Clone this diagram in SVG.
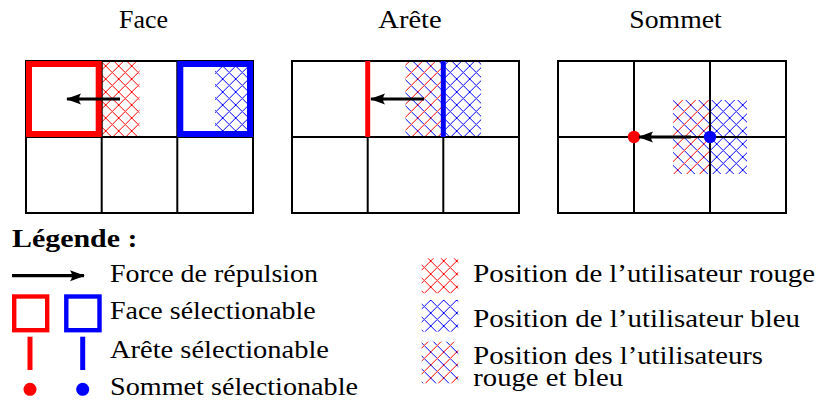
<svg xmlns="http://www.w3.org/2000/svg" width="819" height="403" viewBox="0 0 819 403">
<style>
.grid{fill:none;stroke:#000;stroke-width:2}
.arrow{fill:none;stroke:#000;stroke-width:3.2;marker-end:url(#ah)}
.redsq{fill:none;stroke:#ff0000;stroke-width:6}
.bluesq{fill:none;stroke:#0000ff;stroke-width:6}
</style>
<defs>
<marker id="ah" markerUnits="userSpaceOnUse" viewBox="-16 -7 18 14" markerWidth="18" markerHeight="14" refX="0" refY="0" orient="auto">
<path d="M1,0 L-14,-5.5 Q-10,0 -14,5.5 Z" fill="#000"/>
</marker>
<pattern id="hr" patternUnits="userSpaceOnUse" width="13" height="13" x="1.7" y="1">
<path d="M0,0L13,13M12,-1L14,1M-1,12L1,14M0,13L13,0M-1,1L1,-1M12,14L14,12" stroke="#ff0000" stroke-width="1" fill="none"/>
</pattern>
<pattern id="hb" patternUnits="userSpaceOnUse" width="13" height="13" x="1.7" y="1">
<path d="M0,0L13,13M12,-1L14,1M-1,12L1,14M0,13L13,0M-1,1L1,-1M12,14L14,12" stroke="#0000ff" stroke-width="1" fill="none"/>
</pattern>
<pattern id="hm" patternUnits="userSpaceOnUse" width="13" height="13" x="1.7" y="1">
<path d="M0,0L13,13M12,-1L14,1M-1,12L1,14" stroke="#0000ff" stroke-width="1" fill="none"/>
<path d="M0,13L13,0M-1,1L1,-1M12,14L14,12" stroke="#ff0000" stroke-width="1" fill="none"/>
</pattern>
</defs>
<rect width="819" height="403" fill="#fff"/>

<g font-family="Liberation Serif, DejaVu Serif, Noto Serif, serif" font-size="26" fill="#000">
<g id="panel-face">
<text x="119" y="27.5" textLength="49" lengthAdjust="spacingAndGlyphs">Face</text>
<rect x="101.7" y="61" width="37.8" height="76" fill="url(#hr)"/>
<rect x="215" y="61" width="38" height="76" fill="url(#hb)"/>
<rect class="grid" x="26" y="61" width="227" height="152"/>
<path class="grid" d="M101.7,61V213M177.3,61V213M26,137H253"/>
<rect class="redsq" x="29" y="64" width="69.7" height="70"/>
<rect class="bluesq" x="180.3" y="64" width="69.7" height="70"/>
</g>

<g id="panel-arete">
<text x="378.3" y="27.5" textLength="63.4" lengthAdjust="spacingAndGlyphs">Arête</text>
<rect x="405.5" y="61" width="37.8" height="76" fill="url(#hm)"/>
<rect x="443.3" y="61" width="37.8" height="76" fill="url(#hb)"/>
<rect class="grid" x="292" y="61" width="227" height="152"/>
<path class="grid" d="M367.7,61V213M443.3,61V213M292,137H519"/>
<path d="M367.7,61V137" stroke="#ff0000" stroke-width="5"/>
<path d="M443.3,61V137" stroke="#0000ff" stroke-width="5"/>
</g>

<g id="panel-sommet">
<text x="629.3" y="27.5" textLength="92.4" lengthAdjust="spacingAndGlyphs">Sommet</text>
<rect x="673" y="100" width="37" height="74" fill="url(#hm)"/>
<rect x="710" y="100" width="37" height="74" fill="url(#hb)"/>
<rect class="grid" x="558" y="61" width="228" height="152"/>
<path class="grid" d="M634,61V213M710,61V213M558,137H786"/>
<circle cx="634" cy="137" r="6.2" fill="#ff0000"/>
<circle cx="710" cy="137" r="6.2" fill="#0000ff"/>
</g>

<g id="connectors">
<path class="arrow" d="M120,99H67"/>
<path class="arrow" d="M424,99H371"/>
<path class="arrow" d="M691,137H639"/>
<path class="arrow" d="M12,275.7H84"/>
</g>

<g id="legend">
<text x="12" y="246.7" font-weight="bold" textLength="125.5" lengthAdjust="spacingAndGlyphs">Légende :</text>
<text x="110" y="282" textLength="208" lengthAdjust="spacingAndGlyphs">Force de répulsion</text>
<rect x="14.2" y="296.5" width="33" height="33.7" fill="none" stroke="#ff0000" stroke-width="4.4"/>
<rect x="66.3" y="296.5" width="33.2" height="33.7" fill="none" stroke="#0000ff" stroke-width="4.4"/>
<text x="110" y="319" textLength="205.7" lengthAdjust="spacingAndGlyphs">Face sélectionable</text>
<path d="M30,336.7V370" stroke="#ff0000" stroke-width="5"/>
<path d="M82.7,336.7V370" stroke="#0000ff" stroke-width="5"/>
<text x="110" y="357.7" textLength="219" lengthAdjust="spacingAndGlyphs">Arête sélectionable</text>
<circle cx="30" cy="389.3" r="6.5" fill="#ff0000"/>
<circle cx="82.7" cy="389.3" r="6.5" fill="#0000ff"/>
<text x="110" y="395" textLength="248" lengthAdjust="spacingAndGlyphs">Sommet sélectionable</text>

<rect x="421.7" y="258.3" width="36.6" height="35" fill="url(#hr)"/>
<text x="473.3" y="282.3" textLength="341.7" lengthAdjust="spacingAndGlyphs">Position de l’utilisateur rouge</text>
<rect x="421.7" y="300" width="36.6" height="31.7" fill="url(#hb)"/>
<text x="473.3" y="326.7" textLength="326.7" lengthAdjust="spacingAndGlyphs">Position de l’utilisateur bleu</text>
<rect x="421.7" y="341.7" width="36.6" height="41.6" fill="url(#hm)"/>
<text><tspan x="473.3" y="363.5" textLength="289.7" lengthAdjust="spacingAndGlyphs">Position des l’utilisateurs</tspan><tspan x="473.3" y="385.5" textLength="149.7" lengthAdjust="spacingAndGlyphs">rouge et bleu</tspan></text>
</g>
</g>
</svg>
